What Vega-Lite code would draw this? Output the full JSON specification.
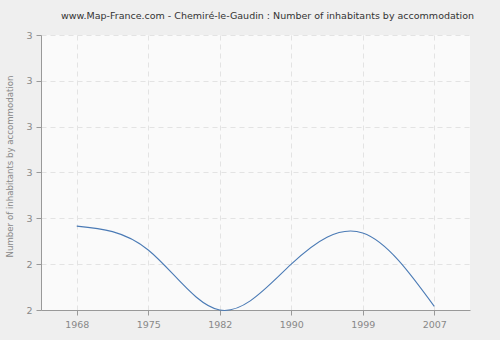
{
  "$schema": "https://vega.github.io/schema/vega-lite/v6.json",
  "width": 429,
  "height": 275,
  "autosize": {"type": "none"},
  "padding": {"left": 41, "top": 35, "right": 30, "bottom": 30},
  "background": "#efefef",
  "title": {
    "text": "www.Map-France.com - Chemiré-le-Gaudin : Number of inhabitants by accommodation",
    "font": "DejaVu Sans",
    "fontSize": 9.5,
    "fontWeight": "normal",
    "color": "#333333",
    "anchor": "middle",
    "dx": 12,
    "offset": 10
  },
  "config": {
    "view": {"fill": "#fafafa", "stroke": null},
    "axis": {
      "labelFont": "DejaVu Sans",
      "labelFontSize": 9.5,
      "labelColor": "#888888",
      "titleFont": "DejaVu Sans",
      "titleFontSize": 8.6,
      "titleFontWeight": "normal",
      "titleColor": "#888888",
      "domainColor": "#999999",
      "tickColor": "#999999",
      "tickSize": 5,
      "gridColor": "#e3e3e3",
      "gridDash": [5, 4],
      "gridWidth": 1
    }
  },
  "data": {
    "values": [
      {"year": "1968", "value": 2.483},
      {"year": "1975", "value": 2.431},
      {"year": "1982", "value": 2.3},
      {"year": "1990", "value": 2.4},
      {"year": "1999", "value": 2.468},
      {"year": "2007", "value": 2.308}
    ]
  },
  "mark": {"type": "line", "interpolate": "natural", "color": "#4a7ab5", "strokeWidth": 1.1},
  "encoding": {
    "x": {
      "field": "year",
      "type": "ordinal",
      "scale": {"type": "point", "padding": 0.5},
      "axis": {"title": null, "labelAngle": 0, "labelPadding": 4, "grid": true}
    },
    "y": {
      "field": "value",
      "type": "quantitative",
      "scale": {"domain": [2.3, 2.9], "nice": false, "zero": false},
      "axis": {
        "title": "Number of inhabitants by accommodation",
        "values": [2.3, 2.4, 2.5, 2.6, 2.7, 2.8, 2.9],
        "labelExpr": "datum.value < 2.45 ? '2' : '3'",
        "labelPadding": 4,
        "titlePadding": 11,
        "titleY": 131,
        "grid": true
      }
    }
  }
}
